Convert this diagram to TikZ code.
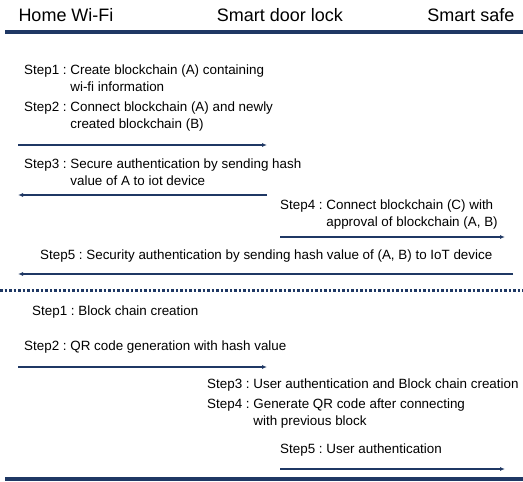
\documentclass[tikz,border=0pt]{standalone}
\usepackage{fontspec}
\setmainfont{Liberation Sans}
\usetikzlibrary{arrows.meta}
\definecolor{navy}{RGB}{31,56,100}
\newcommand{\steplabel}[2]{\begin{tabular}[t]{@{}l@{}l@{}}#1 :~ & #2\end{tabular}}
\renewcommand{\arraystretch}{1.1}

\begin{document}
\begin{tikzpicture}[x=1pt, y=-1pt,
hd/.style={font=\fontsize{18}{21}\selectfont, inner sep=0},
st/.style={anchor=base west, inner sep=0, font=\fontsize{13.4}{16}\selectfont},
msg/.style={draw=navy, line width=1.6pt, -{Latex[length=5pt,width=4pt]}},
sep/.style={draw=navy, line width=3.5pt}]
	\useasboundingbox (0,0) rectangle (523,482);
	% lanes
	\node[hd] at (66,15) (wifi) {Home Wi-Fi};
	\node[hd] at (280,15) (lock) {Smart door lock};
	\node[hd] at (471,15) (safe) {Smart safe};
	\coordinate (top l) at (5,32);
	\coordinate (top r) at (523,32);
	\draw[sep] (top l) -- (top r);

	% upper scenario
	\node[st] at (24,74) (s1) {\steplabel{Step1}{Create blockchain (A) containing\\ & wi-fi information}};
	\node[st] at (24,111) (s2) {\steplabel{Step2}{Connect blockchain (A) and newly\\ & created blockchain (B)}};
	\coordinate (w1) at (18,145);
	\coordinate (d1) at (267,145);
	\draw[msg] (w1) -- (d1);
	\node[st] at (24,168) (s3) {\steplabel{Step3}{Secure authentication by sending hash\\ & value of A to iot device}};
	\coordinate (d2) at (267,195);
	\coordinate (w2) at (18,195);
	\draw[msg] (d2) -- (w2);
	\node[st] at (280,209) (s4) {\steplabel{Step4}{Connect blockchain (C) with\\ & approval of blockchain (A, B)}};
	\coordinate (d3) at (280,237);
	\coordinate (f3) at (505,237);
	\draw[msg] (d3) -- (f3);
	\node[st] at (40,259) (s5) {\steplabel{Step5}{Security authentication by sending hash value of (A, B) to IoT device}};
	\coordinate (f4) at (513,274);
	\coordinate (w4) at (18,274);
	\draw[msg] (f4) -- (w4);

	\coordinate (mid l) at (0,290);
	\coordinate (mid r) at (523,290);
	\draw[navy, line width=3pt, dash pattern=on 2.5pt off 2pt] (mid l) -- (mid r);

	% lower scenario
	\node[st] at (32,315) (q1) {\steplabel{Step1}{Block chain creation}};
	\node[st] at (24,350) (q2) {\steplabel{Step2}{QR code generation with hash value}};
	\coordinate (w5) at (18,367);
	\coordinate (d5) at (267,367);
	\draw[msg] (w5) -- (d5);
	\node[st] at (207,388) (q3) {\steplabel{Step3}{User authentication and Block chain creation}};
	\node[st] at (207,408) (q4) {\steplabel{Step4}{Generate QR code after connecting\\ & with previous block}};
	\node[st] at (280,453) (q5) {\steplabel{Step5}{User authentication}};
	\coordinate (d6) at (280,469);
	\coordinate (f6) at (505,469);
	\draw[msg] (d6) -- (f6);
	\coordinate (bot l) at (5,479);
	\coordinate (bot r) at (523,479);
	\draw[sep] (bot l) -- (bot r);
\end{tikzpicture}
\end{document}
